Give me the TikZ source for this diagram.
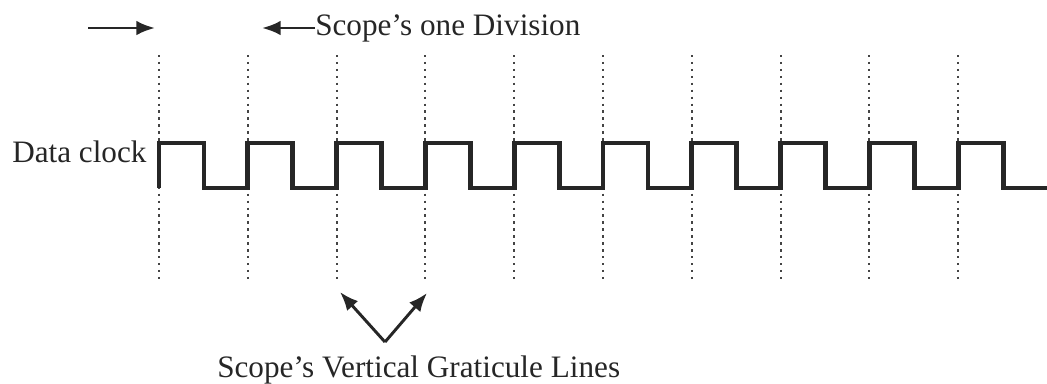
\documentclass[tikz,border=0pt]{standalone}
\usepackage{fontspec}
\setmainfont{Liberation Serif}
\usetikzlibrary{arrows.meta}
\definecolor{ink}{HTML}{262626}
\definecolor{dotc}{HTML}{444444}
\tikzset{
  lbl/.style={anchor=base west, inner sep=0pt, text=ink, font=\fontsize{23.4}{28}\selectfont},
  clockline/.style={draw=ink, line width=3.6pt, line join=miter},
  grat/.style={draw=dotc, line width=1.6pt, dash pattern=on 1.8pt off 3.4pt},
  pointer/.style={draw=ink, line width=2.2pt, -{Latex[length=14pt,width=11pt]}}
}
\begin{document}
\begin{tikzpicture}[x=0.75pt, y=-0.75pt]
\useasboundingbox (0,0) rectangle (1047,383);
% graticule lines
\foreach \k in {0,...,9} {
  \coordinate (g\k top) at ({159+88.8*\k},55);
  \coordinate (g\k bot) at ({159+88.8*\k},280);
  \draw[grat] (g\k top) -- (g\k bot);
}
% clock
\draw[clockline] (159,188)
  \foreach \k in {0,...,9} {
    -- ({159+88.8*\k},188) -- ({159+88.8*\k},143) -- ({204+88.8*\k},143) -- ({204+88.8*\k},188)
  } -- (1047,188);
% labels
\node[lbl] (div) at (315,35) {Scope’s one Division};
\node[lbl] (dclk) at (12,162) {Data clock};
\node[lbl] (glines) at (217,377) {Scope’s Vertical Graticule Lines};
% top arrows
\coordinate (rstart) at (88,28);
\coordinate (rend) at (155,28);
\coordinate (lend) at (262,28);
\draw[pointer] (rstart) -- (rend);
\draw[pointer] (div.west |- 0,28) -- (lend);
% bottom arrows
\coordinate (apex) at (385,342);
\coordinate (lhead) at (340,292);
\coordinate (rhead) at (427,293);
\draw[pointer] (apex) -- (lhead);
\draw[pointer] (apex) -- (rhead);
\end{tikzpicture}
\end{document}
